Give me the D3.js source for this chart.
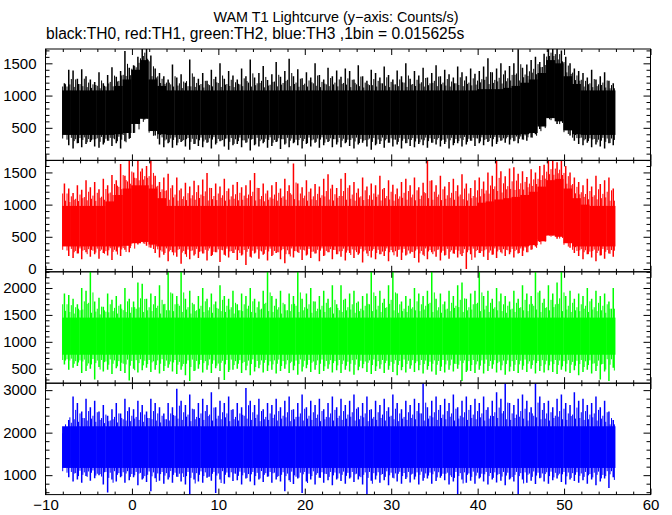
<!DOCTYPE html>
<html><head><meta charset="utf-8">
<script src="https://cdn.jsdelivr.net/npm/d3@7"></script>
<style>body{margin:0;background:#fff} svg{display:block} text{font-family:"Liberation Sans",Arial,Helvetica,sans-serif}</style>
</head><body><svg id="c" width="672" height="515"></svg>
<script>
// ---- data ----
const title = "WAM T1 Lightcurve (y\u2212axis: Counts/s)";
const subtitle = "black:TH0, red:TH1, green:TH2, blue:TH3 ,1bin = 0.015625s";
const tStart = -8.08;          // first bin start (s)
const spikeBin = 0.5;          // envelope sampling (s)
const coreBin = 1;             // dense-band sampling (s)
const xTicks = [-10, 0, 10, 20, 30, 40, 50, 60];
const xMinor = [-8,-6,-4,-2,2,4,6,8,12,14,16,18,22,24,26,28,32,34,36,38,42,44,46,48,52,54,56,58];

const th0Range = [-5, 1722], th0Ticks = [500, 1000, 1500], th0Minor = 100;
const th1Range = [-44, 1687], th1Ticks = [0, 500, 1000, 1500], th1Minor = 100;
const th2Range = [231, 2301], th2Ticks = [500, 1000, 1500, 2000], th2Minor = 100;
const th3Range = [543, 3163], th3Ticks = [1000, 2000, 3000], th3Minor = 200;

// per-0.5 s maxima / minima
const th0Hi = [1190,1400,1390,1260,1410,1300,1250,1210, 1360,1190,1320,1440,1290,1380,1690,1430,
 1470,1600,1760,1760,1620,1420,1350,1300, 1250,1480,1280,1330,1200,1560,1290,1260,
 1350,1230,1400,1290,1500,1260,1380,1310, 1250,1420,1300,1560,1280,1350,1460,1240,
 1330,1520,1290,1380,1570,1300,1410,1270, 1360,1280,1500,1320,1250,1430,1300,1390,
 1290,1420,1380,1250,1470,1300,1230,1400, 1350,1280,1450,1320,1250,1390,1300,1500,
 1260,1380,1310,1430,1280,1350,1470,1300, 1400,1330,1280,1450,1360,1300,1420,1340,
 1380,1450,1580,1360,1420,1500,1390,1460, 1500,1720,1430,1480,1550,1600,1520,1650,
 1760,1760,1760,1700,1600,1500,1420,1380, 1350,1280,1400,1250,1300,1360,1230,1190];
const th0Lo = [420,230,180,260,200,250,280,210, 190,240,300,220,260,180,290,330,
 420,560,650,720,600,380,240,200, 260,190,230,280,210,160,250,220,
 200,270,180,240,290,210,160,230, 250,200,270,150,230,210,260,190,
 220,280,170,240,200,260,230,180, 250,210,270,190,230,280,200,240,
 200,260,220,180,240,270,210,160, 230,250,190,270,210,240,180,260,
 220,200,250,230,190,270,240,210, 250,180,230,260,210,240,300,220,
 260,230,280,210,250,300,270,240, 290,260,320,300,350,400,480,620,
 740,700,560,620,480,380,300,250, 230,270,200,240,210,180,260,230];
// per-1 s dense band
const th0CoreHi = [1080,1080,1080,1080,1080,1080,1150,1250,1400,1550,1250,1150,1080,1080,1080,1080,
 1080,1080,1080,1080,1080,1080,1080,1080,1080,1080,1080,1080,1080,1080,1080,1080,
 1080,1080,1080,1080,1080,1080,1080,1080,1080,1080,1080,1080,1080,1080,1080,1080,
 1100,1100,1100,1120,1150,1200,1250,1350,1550,1500,1300,1180,1080,1080,1080,1080];
const th0CoreLo = [390,390,390,390,390,390,400,420,560,640,450,400,390,390,390,390,
 390,390,390,390,390,390,390,390,390,390,390,390,390,390,390,390,
 390,390,390,390,390,390,390,390,390,390,390,390,390,390,390,390,
 390,390,390,390,390,400,420,520,650,600,460,400,390,390,390,390];

const th1Hi = [1330,1250,1180,1300,1230,1380,1270,1350, 1240,1400,1300,1460,1380,1630,1450,1690,
 1500,1690,1560,1600,1690,1450,1350,1420, 1480,1300,1420,1250,1340,1280,1370,1300,
 1390,1490,1260,1330,1280,1400,1250,1310, 1350,1270,1300,1380,1490,1260,1330,1220,
 1300,1350,1250,1400,1300,1640,1330,1270, 1380,1250,1320,1280,1400,1470,1310,1260,
 1400,1490,1300,1350,1250,1420,1280,1330, 1300,1450,1260,1380,1310,1250,1350,1400,
 1300,1420,1270,1340,1690,1380,1300,1450, 1280,1350,1400,1300,1470,1330,1260,1380,
 1420,1360,1500,1450,1690,1520,1440,1560, 1580,1480,1520,1430,1550,1500,1600,1620,
 1690,1690,1660,1690,1600,1500,1420,1350, 1300,1400,1280,1450,1320,1380,1420,1250];
const th1Lo = [380,200,170,240,150,260,190,230, 160,250,210,140,270,200,300,260,
 410,380,450,360,330,250,180,220, 120,260,190,80,230,150,210,170,
 240,130,200,260,110,220,180,250, 140,210,60,190,240,160,220,130,
 200,250,150,90,230,180,260,140, 210,170,240,120,200,260,150,230,
 190,130,250,170,220,100,240,180, 150,230,200,120,260,190,140,210,
 240,170,100,220,150,260,190,130, 210,160,240,180,200,0,230,180,
 250,190,140,220,170,260,200,230, 180,240,200,260,300,350,420,520,
 580,520,470,540,420,330,250,200, 150,230,180,120,210,160,240,190];
const th1CoreHi = [980,980,980,980,980,1050,1150,1250,1300,1300,1250,1100,980,980,980,980,
 980,980,980,980,980,980,980,980,980,980,980,980,980,980,980,980,
 980,980,980,980,980,980,980,980,980,980,980,980,980,980,980,980,
 1030,1050,1080,1100,1120,1150,1200,1280,1380,1400,1250,1100,1000,980,980,980];
const th1CoreLo = [350,350,350,350,350,350,350,360,400,420,380,350,350,350,350,350,
 350,350,350,350,350,350,350,350,350,350,350,350,350,350,350,350,
 350,350,350,350,350,350,350,350,350,350,350,350,350,350,350,350,
 350,350,350,350,350,350,370,430,520,500,400,350,350,350,350,350];

const th2Hi = [1900,1870,1800,1700,2000,1950,2300,1750, 1820,1650,1900,1780,1850,1700,2000,1800,
 1750,2100,2080,1800,1900,1850,2050,1700, 2300,1900,1850,2300,1800,1950,1700,1850,
 2000,1800,1900,1750,2050,1850,1800,1950, 1700,1900,1850,2000,1800,1750,1950,2300,
 1850,1800,1950,1700,1900,1850,2300,1800, 1900,2000,1750,1850,1950,1800,2050,1700,
 2050,1800,1900,1950,1750,1850,1900,2300, 1850,1950,1800,2050,2300,1900,1750,1850,
 1800,2000,1900,1850,1950,2300,1800,1900, 1750,1950,1850,2050,2100,1800,1900,1950,
 2300,1850,1950,1800,2000,1900,1850,1750, 1950,1800,2050,1900,1850,2300,1950,1800,
 2050,1900,2100,2300,1850,1950,1800,1900, 1850,2000,1800,1950,1850,1900,1750,2000];
const th2Lo = [580,480,520,550,420,460,500,300, 530,450,480,400,510,460,420,280,
 500,430,470,520,440,480,410,460, 520,450,400,480,380,270,460,500,
 430,480,420,510,460,290,440,480, 500,420,470,380,450,510,430,460,
 480,410,460,500,420,470,390,450, 510,440,480,400,460,500,430,470,
 420,480,450,390,470,510,440,400, 460,500,420,480,440,380,470,430,
 500,440,470,410,480,450,390,460, 430,480,450,500,270,440,460,420,
 480,410,460,500,430,470,390,450, 460,420,480,440,500,410,460,430,
 470,440,400,480,450,420,470,380, 440,480,410,460,300,450,270,520];
const th2CoreHi = [1450,1450,1450,1450,1450,1450,1450,1450,1450,1450,1450,1450,1450,1450,1450,1450,
 1450,1450,1450,1450,1450,1450,1450,1450,1450,1450,1450,1450,1450,1450,1450,1450,
 1450,1450,1450,1450,1450,1450,1450,1450,1450,1450,1450,1450,1450,1450,1450,1450,
 1450,1450,1450,1450,1450,1450,1450,1450,1450,1450,1450,1450,1450,1450,1450,1450];
const th2CoreLo = [760,760,760,760,760,760,760,760,760,760,760,760,760,760,760,760,
 760,760,760,760,760,760,760,760,760,760,760,760,760,760,760,760,
 760,760,760,760,760,760,760,760,760,760,760,760,760,760,760,760,
 760,760,760,760,760,760,760,760,760,760,760,760,760,760,760,760];

const th3Hi = [1850,2300,2850,2700,2500,2800,2600,2750, 2500,2650,2400,2550,2700,2450,2800,2600,
 2550,2750,2650,2500,2800,2700,2600,2450, 2700,2600,3030,2750,2650,2900,2550,2700,
 2800,2650,2950,2600,2750,2700,2850,2550, 2700,2600,3050,2750,2650,2800,2550,2700,
 2650,2800,2600,2750,2850,2550,2700,2900, 2600,2750,2650,2800,2550,2700,2850,2600,
 2800,2650,2750,2900,2600,2700,2850,2550, 2750,2650,2800,2600,2900,2700,2550,2750,
 2650,2800,2700,3160,2600,2750,2850,2650, 2800,2700,2900,2600,2750,2850,2650,2800,
 2700,2850,2600,2750,2950,2800,3160,2700, 2650,2800,2900,2750,2600,3160,2850,2700,
 2750,2600,2800,2900,2700,2650,2950,2750, 2800,2650,2700,2850,2600,2750,2500,2300];
const th3Lo = [1300,950,850,900,820,980,870,930, 1000,780,590,900,850,950,820,880,
 950,760,900,840,620,930,870,800, 900,820,960,850,780,560,900,850,
 820,940,870,580,900,800,950,860, 880,780,920,850,760,900,840,960,
 820,900,850,620,880,790,920,580, 850,900,780,940,820,880,760,900,
 860,800,920,840,900,780,550,870, 900,820,880,760,940,850,800,910,
 830,900,780,870,920,800,860,940, 880,780,850,560,900,820,870,800,
 920,850,780,900,830,870,760,900, 850,560,900,820,870,790,930,850,
 800,880,920,840,780,900,860,820, 880,800,900,760,850,920,700,950];
const th3CoreHi = [2150,2150,2150,2150,2150,2150,2150,2150,2150,2150,2150,2150,2150,2150,2150,2150,
 2150,2150,2150,2150,2150,2150,2150,2150,2150,2150,2150,2150,2150,2150,2150,2150,
 2150,2150,2150,2150,2150,2150,2150,2150,2150,2150,2150,2150,2150,2150,2150,2150,
 2150,2150,2150,2150,2150,2150,2150,2150,2150,2150,2150,2150,2150,2150,2150,2150];
const th3CoreLo = [1170,1170,1170,1170,1170,1170,1170,1170,1170,1170,1170,1170,1170,1170,1170,1170,
 1170,1170,1170,1170,1170,1170,1170,1170,1170,1170,1170,1170,1170,1170,1170,1170,
 1170,1170,1170,1170,1170,1170,1170,1170,1170,1170,1170,1170,1170,1170,1170,1170,
 1170,1170,1170,1170,1170,1170,1170,1170,1170,1170,1170,1170,1170,1170,1170,1170];

// ---- layout ----
const svg = d3.select("#c");
const plotTop = 49, panelH = 111.4, nPanels = 4;
const x = d3.scaleLinear().domain([-10, 60]).range([45.5, 650.5]);
const panels = [
  {hi: th0Hi, lo: th0Lo, chi: th0CoreHi, clo: th0CoreLo, color: "#000000", range: th0Range, ticks: th0Ticks, minor: th0Minor},
  {hi: th1Hi, lo: th1Lo, chi: th1CoreHi, clo: th1CoreLo, color: "#ff0000", range: th1Range, ticks: th1Ticks, minor: th1Minor},
  {hi: th2Hi, lo: th2Lo, chi: th2CoreHi, clo: th2CoreLo, color: "#00ff00", range: th2Range, ticks: th2Ticks, minor: th2Minor},
  {hi: th3Hi, lo: th3Lo, chi: th3CoreHi, clo: th3CoreLo, color: "#0000ff", range: th3Range, ticks: th3Ticks, minor: th3Minor}
];

svg.append("text").attr("x", 336).attr("y", 22).attr("text-anchor", "middle")
  .attr("font-size", 14.4).text(title);
svg.append("text").attr("x", 46).attr("y", 39)
  .attr("font-size", 15.6).text(subtitle);

const defs = svg.append("defs");
const perCore = coreBin / spikeBin;

panels.forEach((p, k) => {
  const y0 = plotTop + k * panelH, y1 = y0 + panelH;
  const y = d3.scaleLinear().domain(p.range).range([y1, y0]);
  const cid = "clip" + k;
  defs.append("clipPath").attr("id", cid).append("rect")
    .attr("x", x(-10)).attr("y", y0).attr("width", x(60) - x(-10)).attr("height", panelH);
  const g = svg.append("g").attr("clip-path", `url(#${cid})`);
  const core = i => Math.floor(i / perCore);

  // dense band
  g.selectAll("rect.core").data(p.chi).join("rect").attr("class", "core")
    .attr("x", (d, j) => x(tStart + coreBin * j))
    .attr("width", (d, j) => x(tStart + coreBin * (j + 1)) - x(tStart + coreBin * j) + 0.2)
    .attr("y", d => y(d))
    .attr("height", (d, j) => y(p.clo[j]) - y(d))
    .attr("fill", p.color);

  // envelope strokes: the bin's extreme, plus partial strokes towards neighbouring extremes
  const strokes = [];
  p.hi.forEach((h, i) => {
    const c = core(i), ch = p.chi[c], cl = p.clo[c];
    const hp = p.hi[Math.max(0, i - 1)], hn = p.hi[Math.min(p.hi.length - 1, i + 1)];
    const lp = p.lo[Math.max(0, i - 1)], ln = p.lo[Math.min(p.lo.length - 1, i + 1)];
    strokes.push({t: tStart + spikeBin * i + 0.27, top: h, bot: p.lo[i], w: 1.5});
    strokes.push({t: tStart + spikeBin * i + 0.07, top: ch + 0.55 * (hp - ch), bot: cl - 0.35 * (cl - ln), w: 1});
    strokes.push({t: tStart + spikeBin * i + 0.40, top: ch + 0.3 * (hn - ch), bot: cl - 0.6 * (cl - lp), w: 1});
  });
  g.selectAll("line.sp").data(strokes).join("line").attr("class", "sp")
    .attr("x1", d => x(d.t)).attr("x2", d => x(d.t))
    .attr("y1", d => y(d.bot)).attr("y2", d => y(d.top))
    .attr("stroke", p.color).attr("stroke-width", d => d.w);

  const minorVals = d3.range(Math.ceil(p.range[0] / p.minor) * p.minor, p.range[1], p.minor)
    .filter(v => !p.ticks.includes(v));

  const style = sel => {
    sel.select(".domain").remove();
    sel.selectAll("line").attr("stroke", "#000").attr("stroke-width", 1);
    sel.selectAll("text").attr("font-size", 15).attr("fill", "#000")
      .attr("font-family", '"Liberation Sans",Arial,sans-serif');
  };
  svg.append("g").attr("transform", `translate(${x(-10)},0)`)
    .call(d3.axisLeft(y).tickValues(p.ticks).tickSize(-7).tickPadding(9).tickFormat(d3.format("d"))).call(style);
  svg.append("g").attr("transform", `translate(${x(-10)},0)`)
    .call(d3.axisLeft(y).tickValues(minorVals).tickSize(-4).tickFormat("")).call(style);
  svg.append("g").attr("transform", `translate(${x(60)},0)`)
    .call(d3.axisRight(y).tickValues(p.ticks).tickSize(-7).tickFormat("")).call(style);
  svg.append("g").attr("transform", `translate(${x(60)},0)`)
    .call(d3.axisRight(y).tickValues(minorVals).tickSize(-4).tickFormat("")).call(style);
  svg.append("g").attr("transform", `translate(0,${y0})`)
    .call(d3.axisTop(x).tickValues(xTicks).tickSize(-6).tickFormat("")).call(style);
  svg.append("g").attr("transform", `translate(0,${y0})`)
    .call(d3.axisTop(x).tickValues(xMinor).tickSize(-3).tickFormat("")).call(style);
  const bx = svg.append("g").attr("transform", `translate(0,${y1})`)
    .call(d3.axisBottom(x).tickValues(xTicks).tickSize(-6)
      .tickFormat(k === nPanels - 1 ? d3.format("d") : "")).call(style);
  bx.selectAll("text").attr("dy", null).attr("y", 15);
  svg.append("g").attr("transform", `translate(0,${y1})`)
    .call(d3.axisBottom(x).tickValues(xMinor).tickSize(-3).tickFormat("")).call(style);

  svg.append("rect").attr("x", x(-10)).attr("y", y0).attr("width", x(60) - x(-10)).attr("height", panelH)
    .attr("fill", "none").attr("stroke", "#000").attr("stroke-width", 1);
});
</script></body></html>
